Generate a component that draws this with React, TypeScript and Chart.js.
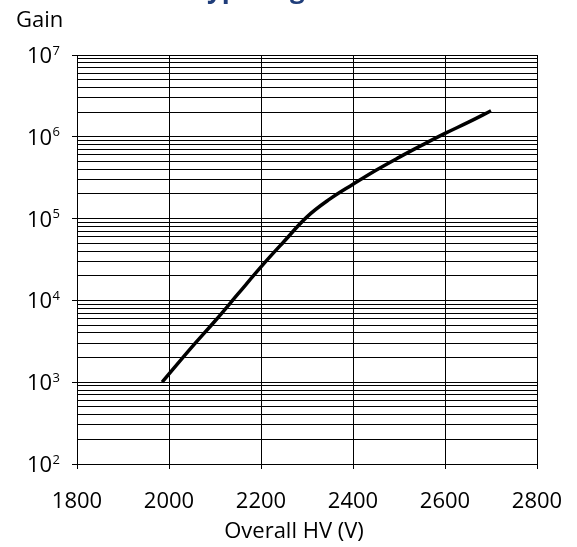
import React, { useEffect, useRef } from "react";
import { Chart, registerables } from "chart.js";

Chart.register(...registerables);

const HV = [1985, 2050, 2100, 2150, 2200, 2250, 2300, 2350, 2400, 2450, 2500, 2550, 2600, 2650, 2700];
const GAIN = [1000, 2700, 5600, 12000, 25700, 52500, 105000, 174000, 263000, 390000, 560000, 790000, 1100000, 1500000, 2080000];
const X_TICKS = [1800, 2000, 2200, 2400, 2600, 2800];
const Y_DECADES = [2, 3, 4, 5, 6, 7];
const Y_MULTIPLIERS = [1, 2, 3, 4, 5, 6, 7, 8, 9];
const TITLE = "Typical gain";
const Y_TITLE = "Gain";
const X_TITLE = "Overall HV (V)";

const FONT = "'Open Sans', 'Noto Sans', sans-serif";

const isDecade = (v: number) => {
  const l = Math.log10(v);
  return Math.abs(l - Math.round(l)) < 1e-9;
};

const labelsPlugin = {
  id: "customLabels",
  afterDraw(chart: any) {
    const ctx = chart.ctx;
    const ys = chart.scales.y;
    const xs = chart.scales.x;
    const area = chart.chartArea;
    ctx.save();
    ctx.fillStyle = "#000";
    ctx.textBaseline = "alphabetic";
    for (const d of Y_DECADES) {
      const py = ys.getPixelForValue(Math.pow(10, d));
      const right = area.left - 17;
      ctx.font = `13px ${FONT}`;
      ctx.textAlign = "right";
      const ew = ctx.measureText(String(d)).width;
      ctx.fillText(String(d), right, py - 0.5);
      ctx.font = `22px ${FONT}`;
      ctx.fillText("10", right - ew - 0.5, py + 8);
    }
    ctx.font = `22px ${FONT}`;
    ctx.textAlign = "center";
    for (const v of X_TICKS) {
      ctx.fillText(String(v), xs.getPixelForValue(v), area.bottom + 44);
    }
    ctx.textAlign = "left";
    ctx.fillText(Y_TITLE, 16, 27);
    ctx.textAlign = "center";
    ctx.fillText(X_TITLE, 294, 538);
    ctx.fillStyle = "#1F3D7A";
    ctx.font = `bold 26px ${FONT}`;
    ctx.textAlign = "left";
    ctx.fillText(TITLE, 192, -2);
    ctx.restore();
  },
};

export default function App() {
  const ref = useRef<HTMLCanvasElement | null>(null);
  useEffect(() => {
    if (!ref.current) return;
    const chart = new Chart(ref.current, {
      type: "line",
      data: {
        datasets: [
          {
            data: HV.map((x, i) => ({ x, y: GAIN[i] })),
            borderColor: "#000",
            borderWidth: 3.5,
            pointRadius: 0,
            tension: 0.4,
            fill: false,
          },
        ],
      },
      options: {
        animation: false,
        responsive: false,
        devicePixelRatio: 1,
        layout: { padding: { top: 55, right: 40, left: 0, bottom: 0 } },
        plugins: { legend: { display: false }, tooltip: { enabled: false }, title: { display: false } },
        scales: {
          x: {
            type: "linear",
            min: 1800,
            max: 2800,
            afterBuildTicks: (s: any) => {
              s.ticks = X_TICKS.map((v) => ({ value: v }));
            },
            afterFit: (s: any) => {
              s.height = 83;
            },
            ticks: {
              padding: 0,
              maxRotation: 0,
              autoSkip: false,
              callback: () => "",
            },
            grid: { color: "#000", lineWidth: 1, tickLength: 5, tickColor: "#000" },
            border: { color: "#000", width: 1 },
          },
          y: {
            type: "logarithmic",
            min: 100,
            max: 10000000,
            afterBuildTicks: (s: any) => {
              const t: any[] = [];
              for (const d of Y_DECADES) {
                for (const m of Y_MULTIPLIERS) {
                  const v = m * Math.pow(10, d);
                  if (v <= 1e7 + 1) t.push({ value: v, major: m === 1 });
                }
              }
              s.ticks = t;
            },
            afterFit: (s: any) => {
              s.width = 77;
            },
            ticks: {
              callback: () => "",
              autoSkip: false,
              padding: 0,
            },
            grid: {
              color: "#000",
              lineWidth: 1,
              tickLength: 5,
              tickColor: (c: any) => (c.tick && isDecade(c.tick.value) ? "#000" : "rgba(0,0,0,0)"),
            },
            border: { color: "#000", width: 1 },
          },
        },
      },
      plugins: [labelsPlugin],
    } as any);
    return () => chart.destroy();
  }, []);
  return (
    <div style={{ position: "absolute", left: 0, top: 0, width: 577, height: 547, background: "#fff" }}>
      <canvas ref={ref} width={577} height={547} style={{ width: 577, height: 547, display: "block" }} />
    </div>
  );
}
